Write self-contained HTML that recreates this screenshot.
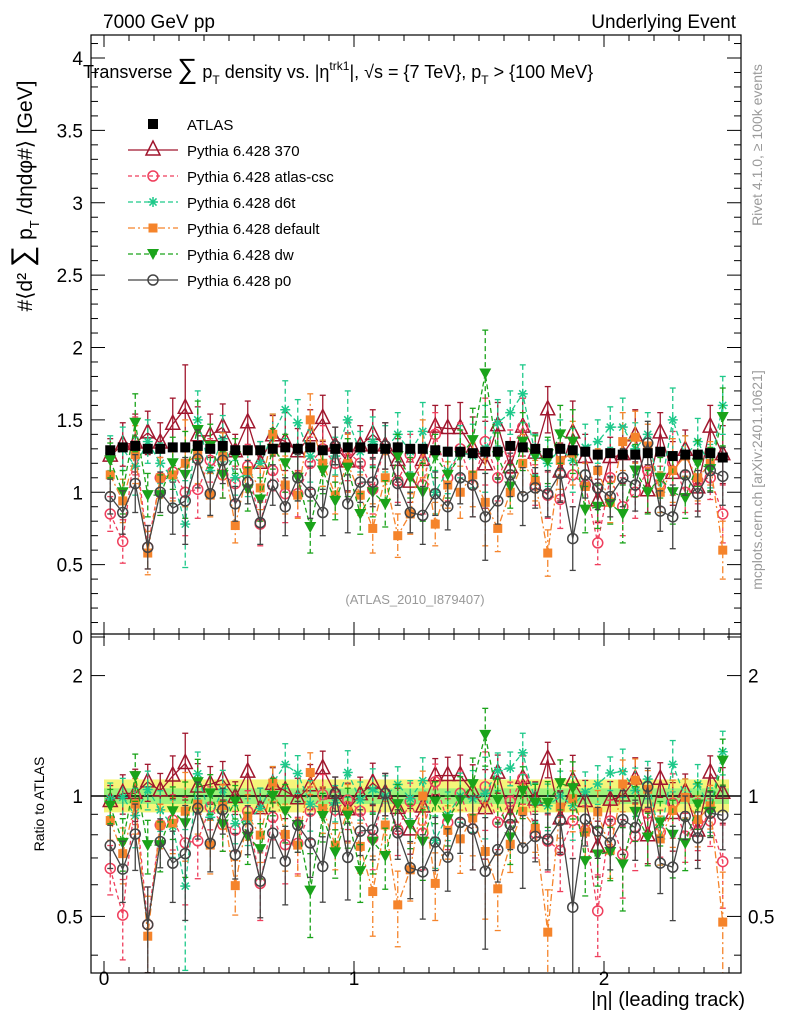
<!DOCTYPE html>
<html><head><meta charset="utf-8"><style>
body{margin:0;background:#fff;}
svg{display:block;font-family:"Liberation Sans",sans-serif;}
</style></head><body>
<svg id="c" width="786" height="1024" viewBox="0 0 786 1024" xmlns="http://www.w3.org/2000/svg">
<text x="103" y="28" font-size="19">7000 GeV pp</text>
<text x="736" y="28" font-size="19" text-anchor="end">Underlying Event</text>
<text x="83" y="78" font-size="18">Transverse <tspan font-size="28">∑</tspan> p<tspan font-size="12" dy="6">T</tspan><tspan dy="-6"> density vs. |η</tspan><tspan font-size="12" dy="-8">trk1</tspan><tspan dy="8">|, √s = {7 TeV}, p</tspan><tspan font-size="12" dy="6">T</tspan><tspan dy="-6"> &gt; {100 MeV}</tspan></text>
<text transform="translate(32,196) rotate(-90)" font-size="21" text-anchor="middle">#⟨d² <tspan font-size="30">∑</tspan> p<tspan font-size="13" dy="7">T</tspan><tspan dy="-7"> /dηdφ#⟩ [GeV]</tspan></text>
<text transform="translate(44,804) rotate(-90)" font-size="14" text-anchor="middle">Ratio to ATLAS</text>
<text transform="translate(762,145) rotate(-90)" font-size="14" fill="#999" text-anchor="middle">Rivet 4.1.0, ≥ 100k events</text>
<text transform="translate(762,480) rotate(-90)" font-size="14" fill="#999" text-anchor="middle">mcplots.cern.ch [arXiv:2401.10621]</text>
<text x="415" y="604" font-size="13" fill="#999" text-anchor="middle">(ATLAS_2010_I879407)</text>
<text x="745" y="1006" font-size="20" text-anchor="end">|η| (leading track)</text>
<g id="plot"></g>
</svg>
<script>
const etaCenters=[0.025,0.075,0.125,0.175,0.225,0.275,0.325,0.375,0.425,0.475,0.525,0.575,0.625,0.675,0.725,0.775,0.825,0.875,0.925,0.975,1.025,1.075,1.125,1.175,1.225,1.275,1.325,1.375,1.425,1.475,1.525,1.575,1.625,1.675,1.725,1.775,1.825,1.875,1.925,1.975,2.025,2.075,2.125,2.175,2.225,2.275,2.325,2.375,2.425,2.475];
const atlasVals=[1.29,1.31,1.32,1.30,1.30,1.31,1.31,1.32,1.30,1.32,1.29,1.29,1.29,1.30,1.31,1.30,1.31,1.29,1.30,1.31,1.31,1.30,1.30,1.31,1.30,1.30,1.29,1.28,1.28,1.27,1.28,1.28,1.32,1.31,1.30,1.27,1.30,1.29,1.28,1.26,1.27,1.26,1.26,1.27,1.28,1.25,1.26,1.26,1.27,1.24];
const py370=[1.25,1.33,1.34,1.41,1.34,1.47,1.58,1.39,1.39,1.45,1.28,1.48,1.20,1.39,1.35,1.28,1.39,1.51,1.32,1.21,1.32,1.40,1.32,1.22,1.07,1.22,1.45,1.44,1.44,1.30,1.19,1.46,1.17,1.45,1.27,1.57,1.14,1.41,1.24,0.94,1.24,1.26,1.39,1.01,1.41,1.13,1.29,1.03,1.45,1.26];
const pyCsc=[0.85,0.66,1.32,0.62,1.10,1.14,1.00,1.02,1.22,1.12,1.06,1.18,0.78,1.15,0.99,0.99,1.20,1.30,1.20,1.28,1.20,1.02,1.32,1.08,1.26,1.05,1.40,1.10,1.30,1.05,1.35,1.10,1.28,1.45,1.05,0.98,0.95,1.12,1.05,0.65,1.10,0.90,1.00,1.15,1.04,1.20,1.00,1.08,1.10,0.85];
const pyD6t=[1.27,1.30,1.18,1.35,1.20,1.10,0.78,1.50,1.15,1.37,1.10,1.12,1.20,1.40,1.57,1.48,1.25,1.20,1.25,1.50,1.28,1.35,1.30,1.40,1.28,1.42,1.00,1.15,1.28,1.25,1.30,1.48,1.55,1.68,1.26,1.20,1.30,1.22,1.31,1.35,1.45,1.45,1.30,1.40,1.00,1.50,1.25,1.35,1.18,1.60];
const pyDefault=[1.12,0.94,1.26,0.58,1.10,1.12,1.20,1.26,0.98,1.25,0.77,1.15,1.03,1.40,1.05,0.98,1.50,1.20,0.98,1.20,0.98,0.75,1.10,0.70,0.85,1.30,0.78,1.05,1.00,1.12,0.93,0.75,1.00,1.20,1.08,0.58,1.22,1.27,1.04,1.15,0.93,1.35,1.38,1.32,1.00,1.15,1.25,1.10,1.20,0.60];
const pyDw=[1.22,1.00,1.48,0.98,0.98,1.20,1.12,1.43,1.32,1.12,1.25,1.02,0.95,1.30,1.20,1.10,0.76,1.15,0.94,1.17,0.85,1.00,0.92,1.25,1.10,1.00,1.25,1.12,1.25,1.36,1.82,1.25,1.04,1.35,1.25,1.22,1.40,1.35,0.88,0.90,0.92,0.85,1.15,1.00,1.10,1.00,0.96,1.20,1.16,1.52];
const pyP0=[0.97,0.86,1.06,0.62,1.00,0.89,0.94,1.23,0.99,1.22,0.92,1.07,0.79,1.05,0.90,1.10,1.00,0.86,1.32,0.92,1.07,1.07,1.32,1.06,0.86,0.84,0.99,0.90,1.10,1.05,0.83,0.94,1.12,0.97,1.03,0.99,1.13,0.68,1.12,1.03,0.97,1.10,1.05,1.34,0.87,0.83,1.12,0.99,1.15,1.11];
const mcErr=[0.12,0.15,0.2,0.15,0.14,0.18,0.3,0.2,0.15,0.16,0.12,0.15,0.15,0.14,0.2,0.16,0.18,0.16,0.13,0.2,0.14,0.17,0.16,0.15,0.14,0.2,0.15,0.16,0.18,0.22,0.3,0.16,0.15,0.2,0.14,0.16,0.2,0.22,0.16,0.15,0.14,0.2,0.18,0.15,0.14,0.22,0.14,0.16,0.15,0.2];
const xTicks=[0,1,2];
const yMainTicks=[0,0.5,1,1.5,2,2.5,3,3.5,4];
const yMainLabels=["0","0.5","1","1.5","2","2.5","3","3.5","4"];
const ratioTicks=[0.5,1,2];

const L=91,R=741,T=35,M=634,B=973;
const X=v=>104+v*250;
const Y=v=>637-v*144.75;
const YR=r=>796-400*Math.log10(r);
const NS="http://www.w3.org/2000/svg";
const plot=document.getElementById('plot');
function mk(tag,attrs,parent){const e=document.createElementNS(NS,tag);for(const k in attrs)e.setAttribute(k,attrs[k]);(parent||plot).appendChild(e);return e;}

const band=mk('rect',{x:X(0),y:YR(1.1),width:X(2.5)-X(0),height:YR(0.91)-YR(1.1),fill:'#f5f57a'});


const band2=mk('rect',{x:X(0),y:YR(1.045),width:X(2.5)-X(0),height:YR(0.955)-YR(1.045),fill:'#9ef27a'});


const one=mk('line',{x1:L,x2:R,y1:YR(1),y2:YR(1),stroke:'#000','stroke-width':1.5});



const series=[
 {name:'py370',vals:py370,col:'#a0162d',dash:'',mk:'tri',label:'Pythia 6.428 370'},
 {name:'pycsc',vals:pyCsc,col:'#ef3e5c',dash:'4,3',mk:'ocirc',label:'Pythia 6.428 atlas-csc'},
 {name:'pyd6t',vals:pyD6t,col:'#1ec98a',dash:'5,3',mk:'star',label:'Pythia 6.428 d6t'},
 {name:'pydefault',vals:pyDefault,col:'#f5842b',dash:'7,3,2,3',mk:'sq',label:'Pythia 6.428 default'},
 {name:'pydw',vals:pyDw,col:'#1aa31a',dash:'5,3',mk:'dtri',label:'Pythia 6.428 dw'},
 {name:'pyp0',vals:pyP0,col:'#444',dash:'',mk:'gcirc',label:'Pythia 6.428 p0'}
];
function marker(type,x,y,col,g){
 if(type==='tri')mk('polygon',{points:`${x},${y-9} ${x-7},${y+5} ${x+7},${y+5}`,fill:'#fff','fill-opacity':0,stroke:col,'stroke-width':1.5},g);
 else if(type==='ocirc'||type==='gcirc')mk('circle',{cx:x,cy:y,r:5,fill:'none',stroke:col,'stroke-width':1.5},g);
 else if(type==='sq')mk('rect',{x:x-4.5,y:y-4.5,width:9,height:9,fill:col},g);
 else if(type==='dtri')mk('polygon',{points:`${x-6},${y-5} ${x+6},${y-5} ${x},${y+6}`,fill:col},g);
 else if(type==='star'){for(let a=0;a<4;a++){const t=a*Math.PI/4;mk('line',{x1:x-5*Math.cos(t),y1:y-5*Math.sin(t),x2:x+5*Math.cos(t),y2:y+5*Math.sin(t),stroke:col,'stroke-width':1.5},g);}}
 else if(type==='bsq')mk('rect',{x:x-5,y:y-5,width:10,height:10,fill:'#000'},g);
}
function drawSeries(s,ratio){
 const g=mk('g',{});
 
 
 const fy=(v,i)=>ratio?YR(v/atlasVals[i]):Y(v);
 let d='';
 s.vals.forEach((v,i)=>{d+=(i?'L':'M')+X(etaCenters[i])+','+fy(v,i);});
 mk('path',{d,fill:'none',stroke:s.col,'stroke-width':1.3,'stroke-dasharray':s.dash},g);
 s.vals.forEach((v,i)=>{
  const x=X(etaCenters[i]);
  const y1=fy(v+mcErr[i],i),y2=fy(Math.max(v-mcErr[i],0.3),i);
  mk('line',{x1:x,x2:x,y1:y1,y2:y2,stroke:s.col,'stroke-width':1.3,'stroke-dasharray':s.dash},g);
  mk('line',{x1:x-3,x2:x+3,y1:y1,y2:y1,stroke:s.col,'stroke-width':1.3},g);
  mk('line',{x1:x-3,x2:x+3,y1:y2,y2:y2,stroke:s.col,'stroke-width':1.3},g);
  marker(s.mk,x,fy(v,i),s.col,g);
 });
}
const cp=mk('clipPath',{id:'clipR'});mk('rect',{x:L,y:M,width:R-L,height:B-M},cp);
const cm=mk('clipPath',{id:'clipM'});mk('rect',{x:L,y:T,width:R-L,height:M-T},cm);
const gm=mk('g',{'clip-path':'url(#clipM)'});
const gr=mk('g',{'clip-path':'url(#clipR)'});
series.forEach(s=>{drawSeries(s,false);gm.appendChild(plot.lastChild);});
const ga=mk('g',{},gm);


atlasVals.forEach((v,i)=>marker('bsq',X(etaCenters[i]),Y(v),'#000',ga));
series.forEach(s=>{drawSeries(s,true);gr.appendChild(plot.lastChild);});

const fr=mk('rect',{x:L,y:T,width:R-L,height:B-T,fill:'none',stroke:'#000','stroke-width':1.2});


mk('line',{x1:L,x2:R,y1:M,y2:M,stroke:'#000','stroke-width':1.2});
for(let k=0;k<=26;k++){const v=k/10,x=X(v);if(x>R)break;const big=k%10===0,len=big?12:6;
 [[T,1],[M,-1],[M,1],[B,-1]].forEach(([y,s])=>mk('line',{x1:x,x2:x,y1:y,y2:y+s*len,stroke:'#000'}));}
xTicks.forEach(v=>{const t=mk('text',{x:X(v),y:985,'font-size':19,'text-anchor':'middle'});t.textContent=v;
 
 });
for(let k=0;k<=41;k++){const v=k/10,y=Y(v);if(y<T)break;const big=k%5===0,len=big?14:7;
 mk('line',{x1:L,x2:L+len,y1:y,y2:y,stroke:'#000'});mk('line',{x1:R,x2:R-len,y1:y,y2:y,stroke:'#000'});}
yMainTicks.forEach((v,i)=>{const t=mk('text',{x:83,y:Y(v)+7,'font-size':19,'text-anchor':'end'});t.textContent=yMainLabels[i];
 
 });
[0.4,0.5,0.6,0.7,0.8,0.9,1,2].forEach(v=>{const y=YR(v),big=(v===0.5||v===1||v===2),len=big?14:7;
 mk('line',{x1:L,x2:L+len,y1:y,y2:y,stroke:'#000'});mk('line',{x1:R,x2:R-len,y1:y,y2:y,stroke:'#000'});});
ratioTicks.forEach(v=>{
 const t=mk('text',{x:83,y:YR(v)+7,'font-size':19,'text-anchor':'end'});t.textContent=v;
 
 
 const t2=mk('text',{x:748,y:YR(v)+7,'font-size':19});t2.textContent=v;
 
 });
const lg=mk('g',{});


const le0=mk('g',{},lg);


marker('bsq',153,124,'#000',le0);
mk('text',{x:187,y:130,'font-size':15},le0).textContent='ATLAS';
series.forEach((s,i)=>{const y=150+i*26;const g=mk('g',{},lg);
 
 
 mk('line',{x1:128,x2:178,y1:y,y2:y,stroke:s.col,'stroke-width':1.3,'stroke-dasharray':s.dash},g);
 marker(s.mk,153,y,s.col,g);
 mk('text',{x:187,y:y+6,'font-size':15},g).textContent=s.label;});
</script>
</body></html>
